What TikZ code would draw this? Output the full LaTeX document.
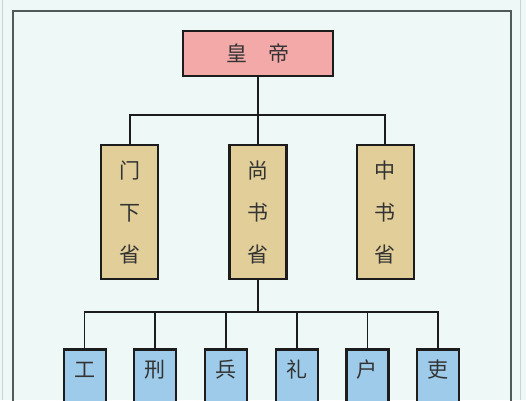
\documentclass[tikz,border=0pt]{standalone}
\usepackage{fontspec}
\usepackage{tikz}
\usetikzlibrary{positioning, calc}
\newfontfamily\cjk{Noto Sans CJK SC}
\definecolor{paper}{HTML}{EEF9F7}
\definecolor{frame}{HTML}{4F5B59}
\definecolor{ghost}{HTML}{C9D3D1}
\definecolor{emperorfill}{HTML}{F3A9A8}
\definecolor{provincefill}{HTML}{E2CE98}
\definecolor{ministryfill}{HTML}{9ECBEA}
\definecolor{ink}{HTML}{1C1C1C}
\tikzset{
  emperorbox/.style={
    rectangle, draw=ink, line width=2.2pt,
    minimum width=150pt, minimum height=45pt,
    fill=emperorfill, text=ink!90, font=\cjk\fontsize{21}{21}\selectfont,
  },
  province/.style={
    rectangle, draw=ink, line width=2.2pt,
    minimum width=57pt, minimum height=134pt, inner sep=0pt,
    align=center, fill=provincefill, text=ink!90,
    font=\cjk\fontsize{21}{42}\selectfont,
  },
  ministry/.style={
    rectangle, draw=ink, line width=2.2pt,
    minimum width=42pt, inner xsep=0pt, inner ysep=0pt,
    text height=28pt, text depth=92pt,
    fill=ministryfill, text=ink!90, font=\cjk\fontsize{21}{21}\selectfont,
  },
  link/.style={line width=1.7pt, color=ink},
}
\begin{document}
\begin{tikzpicture}[x=1pt, y=-1pt, node distance=26.5pt]

  % Page and frame
  \fill[paper] (0,0) rectangle (526,400);
  \useasboundingbox (0,0) rectangle (526,400);
  \clip (0,0) rectangle (526,400);
  \draw[ghost, line width=0.8pt] (2,0) -- (2,400);
  \draw[ghost, line width=0.8pt] (520,0) -- (520,400);
  \draw[frame, line width=1.3pt] (13,410) -- (13,11) -- (511,11) -- (511,410);

  % Emperor
  \node[emperorbox] (huangdi) at (258,53.5) {皇\quad 帝};

  % Three departments
  \node[province, below=67pt of huangdi] (shangshu) {尚\\书\\省};
  \node[province, left=69pt of shangshu] (menxia) {门\\下\\省};
  \node[province, right=68pt of shangshu] (zhongshu) {中\\书\\省};

  % Six ministries
  \node[ministry, below=68pt of shangshu, xshift=-32pt] (war) {兵};
  \node[ministry, left=of war] (justice) {刑};
  \node[ministry, left=of justice] (works) {工};
  \node[ministry, right=of war] (rites) {礼};
  \node[ministry, right=of rites] (revenue) {户};
  \node[ministry, right=of revenue] (personnel) {吏};

  % Buses
  \coordinate (highbus) at ($(huangdi.south)+(0,38)$);
  \coordinate (lowbus) at ($(shangshu.south)+(0,32)$);

  % Lines
  \draw[link] (huangdi) -- (shangshu);
  \draw[link] (menxia.north) |- (highbus) -| (zhongshu.north);
  \draw[link] (shangshu.south) -- (lowbus);
  \draw[link] (works.north) |- (lowbus) -| (personnel.north);
  \draw[link] (justice.north) -- (justice.north |- lowbus);
  \draw[link] (war.north) -- (war.north |- lowbus);
  \draw[link] (rites.north) -- (rites.north |- lowbus);
  \draw[link] (revenue.north) -- (revenue.north |- lowbus);

\end{tikzpicture}
\end{document}
